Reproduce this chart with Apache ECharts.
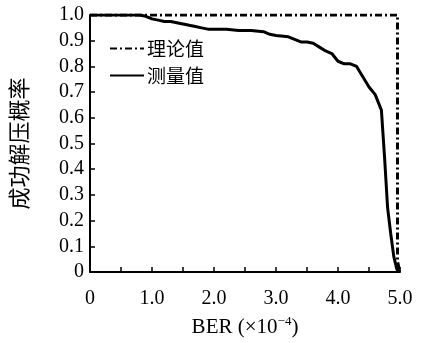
<!DOCTYPE html>
<html><head><meta charset="utf-8">
<script src="https://cdn.jsdelivr.net/npm/echarts@6/dist/echarts.min.js"></script>
<style>html,body{margin:0;padding:0;background:#fff}#c{width:421px;height:343px}</style>
</head><body><div id="c"></div>
<script>
var measuredX = [0,0.1,0.2,0.3,0.4,0.5,0.6,0.7,0.8,0.9,1.0,1.1,1.2,1.3,1.4,1.5,1.6,1.7,1.8,1.9,2.0,2.2,2.4,2.6,2.8,2.9,3.0,3.2,3.3,3.4,3.5,3.6,3.7,3.8,3.9,4.0,4.1,4.2,4.3,4.4,4.5,4.6,4.65,4.7,4.75,4.8,4.85,4.9,4.95,5.0];
var measuredY = [1,1,1,1,1,1,1,1,1,0.995,0.985,0.98,0.975,0.975,0.97,0.965,0.96,0.955,0.95,0.945,0.945,0.945,0.94,0.94,0.935,0.925,0.92,0.915,0.905,0.895,0.895,0.89,0.875,0.86,0.85,0.82,0.81,0.81,0.80,0.76,0.72,0.69,0.66,0.63,0.45,0.25,0.15,0.06,0.01,0.0];
var theoryX = [0,4.96,4.96,5.0];
var theoryY = [1.0,1.0,0.04,0.0];
var seriesNames = ['理论值','测量值'];
var xTicks = {0:'0',1:'1.0',2:'2.0',3:'3.0',4:'4.0',5:'5.0'};
var yTicks = {0:'0'};

function zip(a,b){return a.map(function(v,i){return [v,b[i]];});}
var serif = '"Liberation Serif","DejaVu Serif",serif';
var cjk = '"Noto Sans CJK SC",sans-serif';
var chart = echarts.init(document.getElementById('c'));
chart.setOption({
  animation:false,
  backgroundColor:'#fff',
  grid:{left:90,right:21,top:15,bottom:68,containLabel:false},
  legend:{
    left:104,top:34,orient:'vertical',itemGap:8,itemWidth:34,itemHeight:14,
    itemStyle:{opacity:0},
    textStyle:{fontFamily:cjk,fontSize:19,color:'#000',padding:[0,0,0,-2]},
    data:seriesNames
  },
  xAxis:{
    type:'value',min:0,max:5,interval:0.5,
    name:'BER (×10{sup|−4})',nameLocation:'middle',nameGap:43,
    nameTextStyle:{fontFamily:serif,fontSize:21,color:'#000',rich:{sup:{fontFamily:serif,fontSize:13,color:'#000',verticalAlign:'top',padding:[0,0,12,0]}}},
    axisLine:{lineStyle:{color:'#000',width:2}},
    axisTick:{inside:true,length:5,lineStyle:{color:'#000',width:1.5}},
    splitLine:{show:false},
    axisLabel:{margin:17,fontFamily:serif,fontSize:20,color:'#000',
      formatter:function(v){var k=Math.round(v*10)/10;return (k%1===0)?xTicks[k]:'';}}
  },
  yAxis:{
    type:'value',min:0,max:1,interval:0.1,
    name:'成功解压概率',nameLocation:'middle',nameGap:60,nameRotate:90,
    nameTextStyle:{fontFamily:cjk,fontSize:22,color:'#000'},
    axisLine:{show:true,lineStyle:{color:'#000',width:2}},
    axisTick:{inside:true,length:5,lineStyle:{color:'#000',width:1.5}},
    splitLine:{show:false},
    axisLabel:{margin:6,fontFamily:serif,fontSize:20,color:'#000',
      formatter:function(v){return v===0?yTicks[0]:v.toFixed(1);}}
  },
  series:[
    {name:seriesNames[0],type:'line',symbol:'none',data:zip(theoryX,theoryY),
     lineStyle:{color:'#000',width:3,type:[7,3,2,3]},itemStyle:{color:'#000'},z:3},
    {name:seriesNames[1],type:'line',symbol:'none',data:zip(measuredX,measuredY),
     lineStyle:{color:'#000',width:3},itemStyle:{color:'#000'},z:2}
  ]
});
</script></body></html>
